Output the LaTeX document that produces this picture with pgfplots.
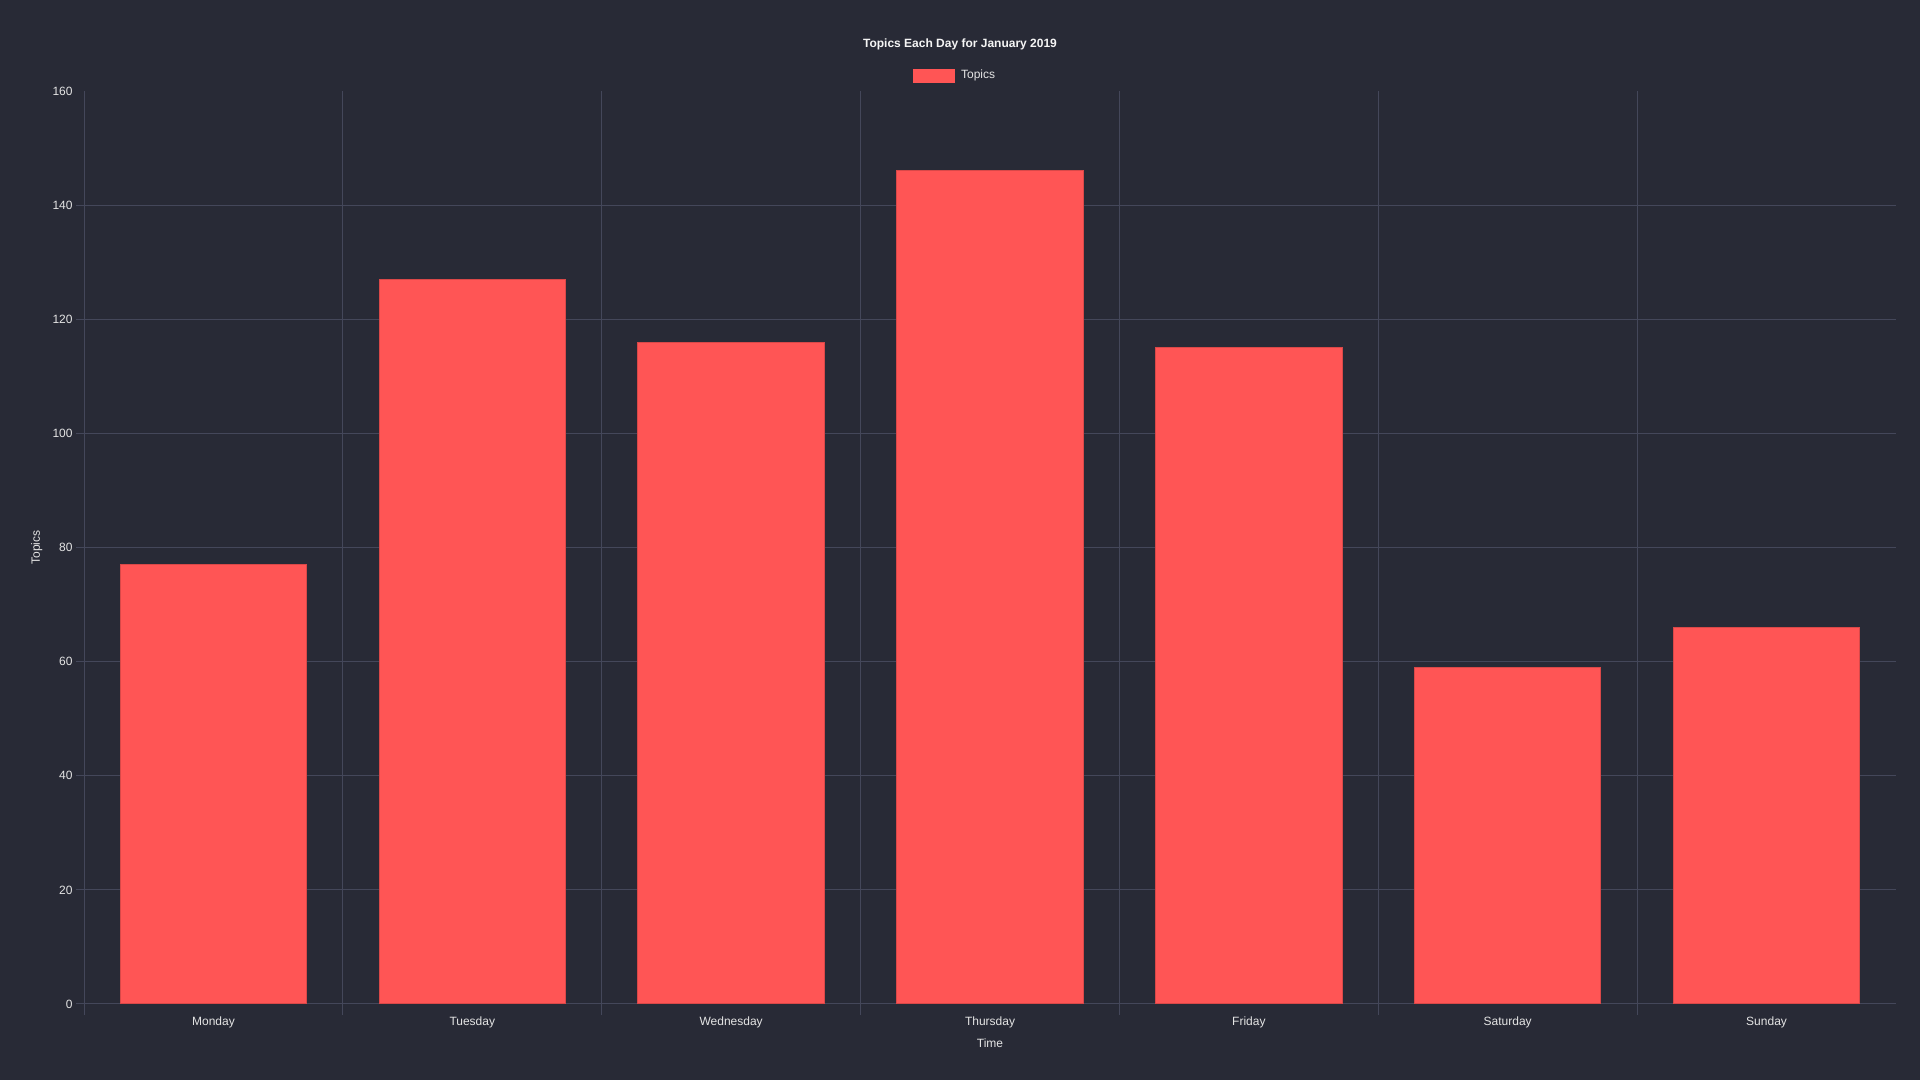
\documentclass[border=0pt]{standalone}
\usepackage{fontspec}
\setmainfont{Liberation Sans}
\usepackage{pgfplots}
\pgfplotsset{compat=1.18}
\definecolor{bg}{HTML}{282A36}
\definecolor{gridc}{HTML}{44475A}
\definecolor{barred}{HTML}{FF5555}
\definecolor{txt}{HTML}{E4E4E4}
\begin{document}
\begin{tikzpicture}
% canvas: 1px = 0.5pt
\fill[bg] (0,0) rectangle (960pt,540pt);
\useasboundingbox (0,0) rectangle (960pt,540pt);
\node[font=\fontsize{6}{7}\selectfont\bfseries, text=white!96!black] at (480pt,518pt) {Topics Each Day for January 2019};
\begin{axis}[
    at={(42pt,38pt)}, anchor=south west,
    scale only axis, width=906pt, height=456.5pt,
    xmin=-0.5, xmax=6.5, ymin=0, ymax=160,
    ybar, bar width=0.72,
    axis line style={draw=none},
    xtick={0,...,6},
    xticklabels={Monday,Tuesday,Wednesday,Thursday,Friday,Saturday,Sunday},
    minor xtick={-0.5,0.5,...,5.5},
    xminorgrids=true, xmajorgrids=false,
    major x tick style={draw=none},
    ytick={0,20,...,140},
    ymajorgrids=true,
    extra y ticks={160},
    extra y tick style={grid=none, tick style={draw=none}},
    xtick pos=bottom, ytick pos=left,
    tick align=outside,
    major tick length=4pt, minor tick length=5.5pt,
    tick style={draw=gridc, line width=0.5pt},
    grid style={draw=gridc, line width=0.5pt},
    minor grid style={draw=gridc, line width=0.5pt},
    ticklabel style={font=\fontsize{6}{7}\selectfont, text=txt},
    /pgf/number format/assume math mode=true,
    yticklabel style={anchor=east, inner sep=0pt, xshift=-1.5pt},
    xticklabel style={anchor=north, inner sep=0pt, yshift=-2.2pt},
    xlabel={Time}, ylabel={Topics},
    label style={font=\fontsize{6}{7}\selectfont, text=txt},
    xlabel style={at={(axis description cs:0.5,-0.043)}, anchor=center},
    ylabel style={at={(axis description cs:-0.0261,0.5)}, anchor=center},
    legend style={at={(0.4812,1.0165)}, anchor=center, draw=none, fill=none,
        text=txt, font=\fontsize{6}{7}\selectfont, inner sep=0pt,
        /tikz/every odd column/.append style={column sep=0pt},
        /tikz/every even column/.append style={column sep=0pt}},
]
\addplot[fill=barred, draw=barred!85!black, line width=0.5pt,
    legend image code/.code={\fill[barred] (0pt,-3.25pt) rectangle (20.5pt,3.25pt);}]
    coordinates {(0,77) (1,127) (2,116) (3,146) (4,115) (5,59) (6,66)};
\addlegendentry{\hspace{1.2pt}Topics}
\end{axis}
\end{tikzpicture}
\end{document}
